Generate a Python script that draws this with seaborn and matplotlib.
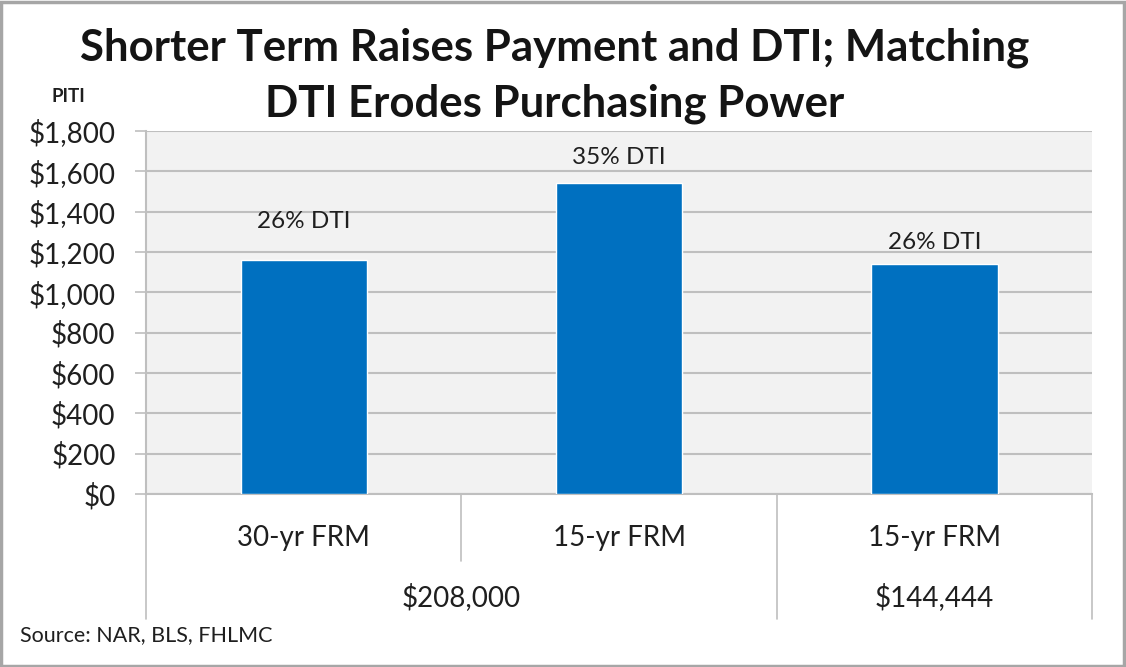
import numpy as np
import pandas as pd
import matplotlib
matplotlib.use("Agg")
import matplotlib.pyplot as plt
import matplotlib.transforms as mtransforms
from matplotlib.patches import Rectangle
import seaborn as sns

# data
terms = ["30-yr FRM", "15-yr FRM", "15-yr FRM"]
prices = ["$208,000", "$208,000", "$144,444"]
piti = [1160, 1542, 1140]
dti_labels = ["26% DTI", "35% DTI", "26% DTI"]

sns.set_style("white")
plt.rcParams["font.family"] = ["Lato", "DejaVu Sans"]

df = pd.DataFrame({"bar": ["a", "b", "c"], "piti": piti})

fig = plt.figure(figsize=(11.26, 6.67), dpi=100)
ax = fig.add_axes([0.1297, 0.2594, 0.8403, 0.5442])
ax.set_facecolor("#F2F2F2")

sns.barplot(data=df, x="bar", y="piti", color="#0070C0", saturation=1,
            width=0.4, ax=ax, zorder=3)

ax.set_ylim(0, 1800)
ax.set_xlim(-0.5, 2.5)
ax.set_yticks(np.arange(0, 1801, 200))
ax.set_yticklabels(["${:,.0f}".format(v) for v in np.arange(0, 1801, 200)], fontsize=20, color="#1f1f1f")
ax.yaxis.grid(True, color="#BFBFBF", linewidth=1.5, zorder=0)
ax.set_axisbelow(True)
ax.tick_params(axis="y", direction="out", length=8, width=1.2, color="#BFBFBF", pad=14, left=True)
ax.tick_params(axis="x", length=0, labelbottom=False)
ax.set_xlabel("")
ax.set_ylabel("")
for s in ["top", "right"]:
    ax.spines[s].set_visible(False)
for s in ["left", "bottom"]:
    ax.spines[s].set_color("#BFBFBF")
    ax.spines[s].set_linewidth(1.5)

# DTI labels over bars
label_offsets = [190, 125, 105]
for i, (v, lab) in enumerate(zip(piti, dti_labels)):
    ax.text(i, v + label_offsets[i], lab, ha="center", va="center", fontsize=17.5, color="#1f1f1f")

# multi-level category axis
trans = mtransforms.blended_transform_factory(ax.transData, ax.transAxes)
for i, t in enumerate(terms):
    ax.text(i, -0.12, t, transform=trans, ha="center", va="center", fontsize=20, color="#1f1f1f")

groups = []
for i, p in enumerate(prices):
    if groups and groups[-1][0] == p:
        groups[-1][2] = i
    else:
        groups.append([p, i, i])
for p, a, b in groups:
    ax.text((a + b) / 2, -0.285, p, transform=trans, ha="center", va="center", fontsize=20, color="#1f1f1f")
    ax.plot([a - 0.5, a - 0.5], [0, -0.345], transform=trans, color="#BFBFBF", lw=1.2, clip_on=False)
    for k in range(a, b):
        ax.plot([k + 0.5, k + 0.5], [0, -0.185], transform=trans, color="#BFBFBF", lw=1.2, clip_on=False)
ax.plot([2.5, 2.5], [0, -0.345], transform=trans, color="#BFBFBF", lw=1.2, clip_on=False)

fig.text(0.493, 0.928, "Shorter Term Raises Payment and DTI; Matching", ha="center", va="center",
         fontsize=31.5, fontweight="bold", color="#141414")
fig.text(0.493, 0.845, "DTI Erodes Purchasing Power", ha="center", va="center",
         fontsize=31.5, fontweight="bold", color="#141414")
fig.text(0.061, 0.855, "PITI", ha="center", va="center", fontsize=13.5, fontweight="bold", color="#1f1f1f")
fig.text(0.018, 0.048, "Source: NAR, BLS, FHLMC", ha="left", va="center", fontsize=15.5, color="#1f1f1f")

fig.patches.append(Rectangle((0.001, 0.002), 0.997, 0.995, transform=fig.transFigure,
                             fill=False, edgecolor="#A6A6A6", linewidth=2.5))

fig.savefig("out.png", dpi=100)
